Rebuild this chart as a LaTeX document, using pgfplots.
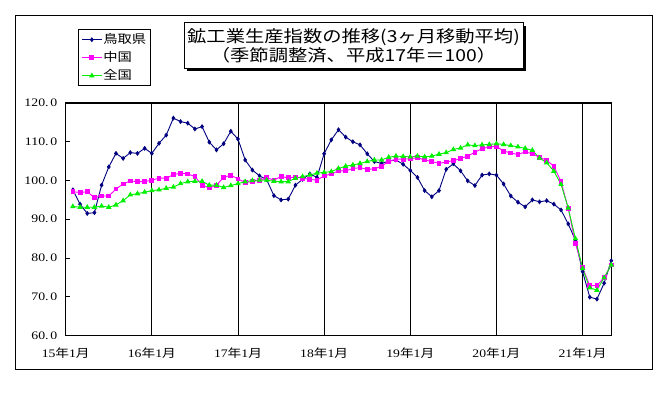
\documentclass[border=0pt]{standalone}
\usepackage{pgfplots}
\pgfplotsset{compat=1.18}
\usepackage{pgfplotstable}
\usepackage{fontspec}
\setmainfont{Liberation Serif}
\newfontfamily\cjk{Noto Sans CJK JP}
\definecolor{tottori}{HTML}{000080}
\definecolor{chugoku}{HTML}{FF00FF}
\definecolor{zenkoku}{HTML}{00F000}
\newcommand\yl[1]{\scalebox{1.2}[1]{#1.\hspace{0.12em}0}}
\newcommand\xl[1]{\scalebox{1.19}[1]{#1{\cjk 年}1{\cjk 月}}}
\pgfplotstableread{
i tot chu zen
1 97.6 97.1 93.3
2 93.9 96.9 93.1
3 91.5 97.1 93.1
4 91.7 95.6 93.1
5 98.8 96.0 93.4
6 103.5 96.0 93.1
7 107.0 97.8 93.7
8 105.7 99.1 94.8
9 107.2 99.9 96.3
10 107.0 99.7 96.6
11 108.3 99.7 97.0
12 107.0 100.1 97.4
13 109.6 100.6 97.6
14 111.7 100.6 98.0
15 116.1 101.5 98.3
16 115.2 101.9 99.2
17 114.8 101.7 99.7
18 113.3 101.0 99.8
19 113.9 98.8 99.8
20 109.9 98.1 98.8
21 107.9 98.8 98.8
22 109.5 100.8 98.2
23 112.7 101.4 98.7
24 110.7 100.4 99.2
25 105.3 99.5 99.7
26 102.7 99.7 100.0
27 101.2 100.1 100.1
28 100.2 100.7 100.1
29 96.1 100.1 99.8
30 95.0 101.0 99.7
31 95.2 100.7 99.7
32 98.8 100.9 100.6
33 100.3 100.6 101.0
34 101.7 100.3 101.4
35 100.8 100.1 101.9
36 106.9 101.2 102.1
37 110.5 101.7 102.3
38 113.1 102.5 103.1
39 111.2 102.5 103.7
40 110.0 103.1 104.0
41 109.2 103.3 104.4
42 106.9 102.9 104.9
43 104.9 103.0 105.3
44 104.4 103.7 105.3
45 105.0 104.9 106.0
46 105.3 105.5 106.3
47 104.2 105.5 106.2
48 102.6 105.6 106.1
49 100.8 105.9 106.3
50 97.4 105.3 106.1
51 95.8 104.9 106.3
52 97.4 104.4 106.8
53 102.9 104.8 107.2
54 104.3 105.1 108.0
55 102.5 105.7 108.4
56 99.9 106.3 109.2
57 98.7 107.3 109.0
58 101.4 108.2 109.2
59 101.7 108.7 109.3
60 101.4 108.8 109.5
61 99.1 107.6 109.3
62 96.0 107.1 109.0
63 94.4 106.7 108.7
64 93.2 107.4 108.3
65 95.0 106.9 107.8
66 94.5 106.0 105.8
67 94.8 105.2 104.6
68 93.9 103.7 102.4
69 92.4 99.7 99.0
70 88.8 92.8 92.9
71 84.6 83.8 85.0
72 76.5 77.5 77.3
73 69.9 72.9 72.3
74 69.4 72.9 71.7
75 73.5 74.9 74.9
76 79.3 78.2 78.2
}\data
\begin{document}
\begin{tikzpicture}[x=1pt,y=1pt]
\path[use as bounding box] (0,0) rectangle (669,392);
\draw[line width=1pt] (15,23) rectangle (652,376);
\begin{axis}[
  at={(65.7pt,56.5pt)}, anchor=south west,
  scale only axis, width=545.6pt, height=232.5pt,
  xmin=0, xmax=76, ymin=60, ymax=120,
  ytick={60,70,...,120},
  yticklabels={\yl{60},\yl{70},\yl{80},\yl{90},\yl{100},\yl{110},\yl{120}},
  xtick={0,12,...,72},
  xticklabels={\xl{15},\xl{16},\xl{17},\xl{18},\xl{19},\xl{20},\xl{21}},
  xtick style={draw=none},
  ytick pos=left,
  tick align=inside,
  major tick length=4pt,
  tick style={black, line width=0.8pt},
  xmajorgrids=true,
  major x grid style={black, line width=0.9pt},
  axis line style={black, line width=1.1pt},
  yticklabel style={font=\fontsize{11.5}{12}\selectfont, xshift=-5pt},
  xticklabel style={font=\fontsize{11.5}{12}\selectfont, yshift=-9pt},
  clip=false,
  legend style={at={(0.0225,1.317)}, anchor=north west, draw=black, line width=0.8pt,
    font=\cjk\fontsize{12}{12}\selectfont, inner xsep=3pt, inner ysep=3pt,
    row sep=4pt, nodes={inner sep=1pt, text height=10pt, text depth=2pt}},
  legend cell align=left,
  legend image code/.code={\draw[mark repeat=2,mark phase=2,#1] plot coordinates {(0pt,0pt) (10pt,0pt) (20pt,0pt)};},
]
\addplot[tottori, line width=0.9pt, mark=diamond*, mark size=1.8pt, mark options={solid}] table[x=i,y=tot] {\data};
\addlegendentry{\scalebox{1.19}[1]{鳥取県}}
\addplot[chugoku, line width=0.9pt, mark=square*, mark size=1.9pt, mark options={solid}] table[x=i,y=chu] {\data};
\addlegendentry{\scalebox{1.19}[1]{中国}}
\addplot[zenkoku, line width=0.9pt, mark=triangle*, mark size=2.3pt, mark options={solid}] table[x=i,y=zen] {\data};
\addlegendentry{\scalebox{1.19}[1]{全国}}
\end{axis}
\fill[black] (187,321) rectangle (526,366);
\draw[fill=white, line width=1pt] (184,324) rectangle (523,369);
\node[align=center, font=\cjk\fontsize{16.5}{19}\selectfont, inner sep=0pt] at (353.5,346.5)
  {\scalebox{1.17}[1]{鉱工業生産指数の推移(3ヶ月移動平均)}\\\scalebox{1.17}[1]{（季節調整済、平成17年＝100）}};
\end{tikzpicture}
\end{document}
